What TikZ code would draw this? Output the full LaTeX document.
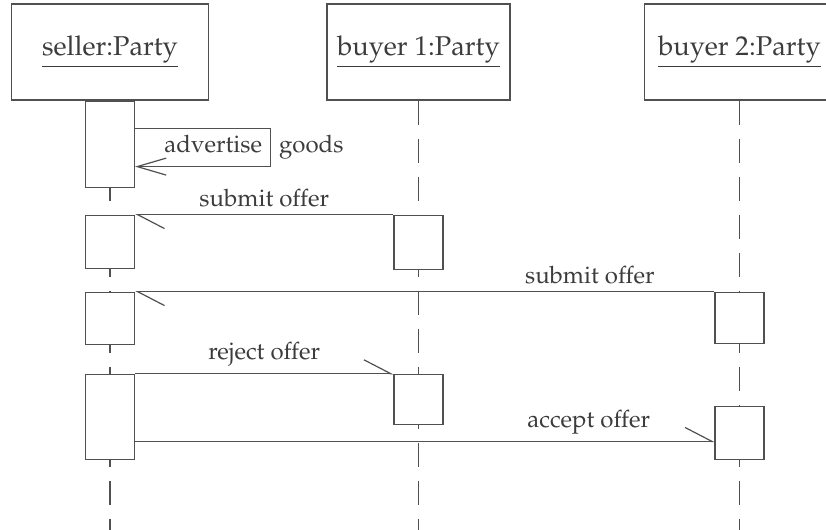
\documentclass[tikz,border=0pt]{standalone}
\usepackage[T1]{fontenc}
\usepackage{mathpazo}
\usepackage{tikz}
\usetikzlibrary{arrows.meta,positioning}

\definecolor{linegray}{HTML}{505050}
\definecolor{textgray}{HTML}{3C3C3C}

\begin{document}
\begin{tikzpicture}[x=0.5pt,y=-0.5pt,node distance=14pt,
  every node/.style={text=textgray},
  obj/.style={draw=linegray,line width=0.6pt,minimum height=48pt,font=\fontsize{13.6}{16}\selectfont},
  act/.style={draw=linegray,fill=white,line width=0.6pt,minimum width=24.5pt,inner sep=0pt},
  lifeline/.style={draw=linegray,line width=0.6pt,dash pattern=on 12pt off 7pt},
  msg/.style={draw=linegray,line width=0.6pt,-{Straight Barb[harpoon,length=13.5pt,width=14pt]}},
  lbl/.style={font=\fontsize{12}{14}\selectfont}]
\useasboundingbox (0,0) rectangle (826,530);

% objects
\node[obj,minimum width=98.5pt] (seller) at (110,52) {\underline{seller:Party}};
\node[obj,minimum width=91.5pt] (buyerA) at (418.5,52) {\underline{buyer 1:Party}};
\node[obj,minimum width=95pt] (buyerB) at (739.5,52) {\underline{buyer 2:Party}};

% lifelines
\coordinate (bottom) at (0,530);
\draw[lifeline] (seller.south) -- (seller.south |- bottom);
\draw[lifeline] (buyerA.south) -- (buyerA.south |- bottom);
\draw[lifeline] (buyerB.south) -- (buyerB.south |- bottom);

% activations
\node[act,minimum height=27pt,below=57pt of buyerA] (ba1) {};
\node[act,minimum height=25pt,below=52pt of ba1] (ba2) {};
\node[act,minimum height=25.5pt,below=95.5pt of buyerB] (ca1) {};
\node[act,minimum height=26.5pt,below=31pt of ca1] (ca2) {};
\node[act,minimum height=43pt,below=0pt of seller] (sa1) {};
\node[act,minimum height=26.5pt,anchor=north] (sa2) at (sa1.south |- ba1.north) {};
\node[act,minimum height=26pt,anchor=north] (sa3) at (sa1.south |- ca1.north) {};
\node[act,minimum height=42.5pt,anchor=north] (sa4) at (sa1.south |- ba2.north) {};

% messages
\node[lbl] (adv) at (254,147) {advertise\hspace{8.5pt}goods};
\draw[draw=linegray,line width=0.6pt,-{Straight Barb[length=14.5pt,width=8.5pt]}]
  ([yshift=-14pt]sa1.north east) -- ++(135,0) -- ++(0,38) -- ([yshift=-33pt]sa1.north east);
\draw[msg] (ba1.north west) -- (sa2.north east) node[lbl,midway,above] {submit offer};
\draw[msg] (ca1.north west) -- (sa3.north east) node[lbl,pos=0.215,above] {submit offer};
\draw[msg] (sa4.north east) -- (ba2.north west) node[lbl,midway,above] {reject offer};
\coordinate (acc) at ([yshift=-4.25pt]ca2.west);
\draw[msg] (sa4.east |- acc) -- (acc) node[lbl,pos=0.783,above] {accept offer};
\end{tikzpicture}
\end{document}
